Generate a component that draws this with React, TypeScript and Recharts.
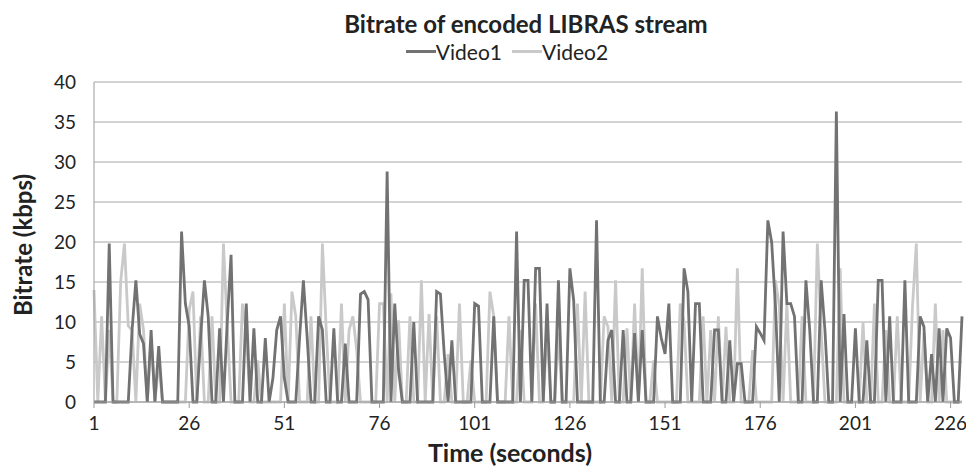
import { LineChart, Line, XAxis, YAxis, CartesianGrid } from "recharts";

// seconds 1..229 along the x axis
const seconds = Array.from({ length: 229 }, (_, i) => String(i + 1));

const video1 = [
  0, 0, 0, 0, 19.8, 0, 0, 0, 0, 0,
  9, 15.2, 8.5, 7.3, 0, 9, 0, 7, 0, 0,
  0, 0, 0, 21.3, 12.3, 9.5, 0, 0, 8, 15.2,
  10.7, 0, 0, 9.2, 0, 10, 18.4, 0, 0, 0,
  12.3, 0, 9.2, 0, 0, 8, 0, 3, 9, 10.7,
  3, 0, 0, 0, 8, 15.2, 8, 0, 0, 10.7,
  9, 0, 0, 9.2, 0, 0, 7.3, 0, 0, 0,
  13.5, 13.8, 12.8, 0, 0, 0, 0, 28.8, 0, 12.3,
  4, 0, 0, 0, 10, 0, 0, 0, 0, 0,
  13.8, 13.5, 6, 0, 7.7, 0, 0, 0, 0, 0,
  12.3, 12, 0, 0, 0, 10.7, 0, 0, 0, 0,
  0, 21.3, 0, 15.2, 15.2, 0, 16.7, 16.7, 0, 12.3,
  0, 0, 15.2, 0, 0, 16.7, 12.7, 0, 0, 0,
  0, 0, 22.7, 0, 0, 7.7, 9, 0, 0, 9,
  0, 0, 8.6, 0, 9, 0, 0, 0, 10.7, 8,
  6, 12.3, 0, 0, 0, 16.7, 13.8, 0, 12.3, 12.3,
  0, 0, 0, 9, 9, 0, 0, 7.7, 0, 4.8,
  4.8, 0, 0, 0, 9.4, 8.6, 7.7, 22.7, 20, 12,
  0, 21.3, 12.3, 12.3, 10.7, 0, 0, 15.2, 9, 0,
  0, 15.2, 9, 0, 0, 36.3, 0, 11, 0, 0,
  9.2, 0, 0, 7.7, 0, 0, 15.2, 15.2, 0, 10.7,
  0, 0, 0, 15.2, 0, 0, 0, 10.7, 9.4, 0,
  6, 0, 9.2, 0, 9.2, 8, 0, 0, 10.7,
];

const video2 = [
  14, 0, 10.7, 0, 9, 0, 0, 15, 19.8, 9.5,
  9, 0, 12.3, 9, 0, 8, 0, 5, 0, 0,
  0, 0, 0, 0, 0, 11.5, 13.8, 0, 10.7, 0,
  0, 10.7, 0, 0, 19.8, 9.4, 0, 0, 0, 12.3,
  8.6, 0, 0, 5.2, 0, 0, 0, 0, 0, 0,
  12.3, 0, 13.8, 10.7, 0, 0, 0, 10.7, 0, 0,
  19.8, 9, 0, 0, 0, 12.3, 0, 9, 10.7, 6.5,
  0, 0, 0, 0, 0, 12.3, 12.3, 0, 13.6, 0,
  10.2, 0, 0, 10.7, 0, 0, 15.2, 0, 11, 0,
  10.7, 0, 0, 6, 0, 0, 12.3, 0, 0, 5.2,
  0, 0, 0, 0, 13.8, 10.7, 0, 0, 0, 10.7,
  0, 0, 9, 0, 0, 0, 12.3, 0, 0, 9,
  0, 0, 8.6, 0, 0, 0, 0, 12.3, 0, 13.8,
  0, 0, 0, 0, 10.7, 9.4, 0, 15.2, 0, 0,
  9.2, 0, 12.3, 0, 16.7, 0, 0, 5.2, 0, 0,
  0, 0, 0, 0, 12.3, 10, 0, 0, 0, 0,
  10.7, 0, 9, 0, 10.7, 0, 9.4, 0, 0, 16.7,
  0, 0, 0, 6.5, 0, 0, 0, 0, 0, 15.2,
  12, 0, 12.3, 0, 0, 0, 10.7, 0, 0, 0,
  19.8, 9, 0, 0, 0, 0, 16.7, 0, 0, 0,
  0, 0, 10, 0, 0, 12.3, 0, 0, 9, 0,
  0, 10.7, 0, 0, 0, 12, 19.8, 0, 8.6, 0,
  0, 12.3, 0, 9, 0, 0, 0, 0, 0,
];

const yTicks = [0, 5, 10, 15, 20, 25, 30, 35, 40];

const DARK = "#727272";
const LIGHT = "#c9c9c9";
const FONT = "Lato, 'Open Sans', sans-serif";

export default function App() {
  const data = seconds.map((t, i) => ({ t, video1: video1[i], video2: video2[i] }));

  return (
    <div
      style={{
        position: "absolute",
        left: 0,
        top: 0,
        width: 966,
        height: 474,
        background: "#fff",
        fontFamily: FONT,
        color: "#222",
      }}
    >
      {/* title */}
      <div
        style={{
          position: "absolute",
          left: 226,
          width: 600,
          top: 12,
          textAlign: "center",
          fontSize: 24,
          lineHeight: "24px",
          fontWeight: 700,
        }}
      >
        Bitrate of encoded LIBRAS stream
      </div>

      {/* legend */}
      <div
        style={{
          position: "absolute",
          left: 307,
          width: 400,
          top: 41,
          display: "flex",
          justifyContent: "center",
          gap: 10,
          fontSize: 21,
          lineHeight: "21px",
        }}
      >
        {[
          { name: "Video1", color: DARK },
          { name: "Video2", color: LIGHT },
        ].map((s) => (
          <span key={s.name} style={{ display: "flex", alignItems: "center" }}>
            <span
              style={{ display: "inline-block", width: 30, borderTop: `3px solid ${s.color}` }}
            />
            {s.name}
          </span>
        ))}
      </div>

      {/* y axis title */}
      <div
        style={{
          position: "absolute",
          left: 22,
          top: 245,
          transform: "translate(-50%, -50%) rotate(-90deg)",
          whiteSpace: "nowrap",
          fontSize: 24,
          fontWeight: 700,
        }}
      >
        Bitrate (kbps)
      </div>

      {/* x axis title */}
      <div
        style={{
          position: "absolute",
          left: 310,
          width: 400,
          top: 439,
          textAlign: "center",
          fontSize: 25,
          lineHeight: "26px",
          fontWeight: 700,
        }}
      >
        Time (seconds)
      </div>

      <LineChart
        width={966}
        height={474}
        data={data}
        margin={{ top: 82, right: 4, left: 34, bottom: 42 }}
      >
        <CartesianGrid vertical={false} stroke="#c4c4c4" strokeWidth={1.5} />
        <XAxis
          dataKey="t"
          interval={24}
          stroke="#9a9a9a"
          tickSize={6}
          tickMargin={9}
          height={30}
          tick={{ fill: "#222", fontSize: 19, fontFamily: FONT }}
        />
        <YAxis
          domain={[0, 40]}
          ticks={yTicks}
          width={60}
          stroke="#9a9a9a"
          tickLine={false}
          tickMargin={12}
          tick={{ fill: "#222", fontSize: 19, fontFamily: FONT }}
        />
        <Line
          type="linear"
          dataKey="video2"
          stroke={LIGHT}
          strokeWidth={2.8}
          dot={false}
          isAnimationActive={false}
        />
        <Line
          type="linear"
          dataKey="video1"
          stroke={DARK}
          strokeWidth={2.8}
          dot={false}
          isAnimationActive={false}
        />
      </LineChart>
    </div>
  );
}
